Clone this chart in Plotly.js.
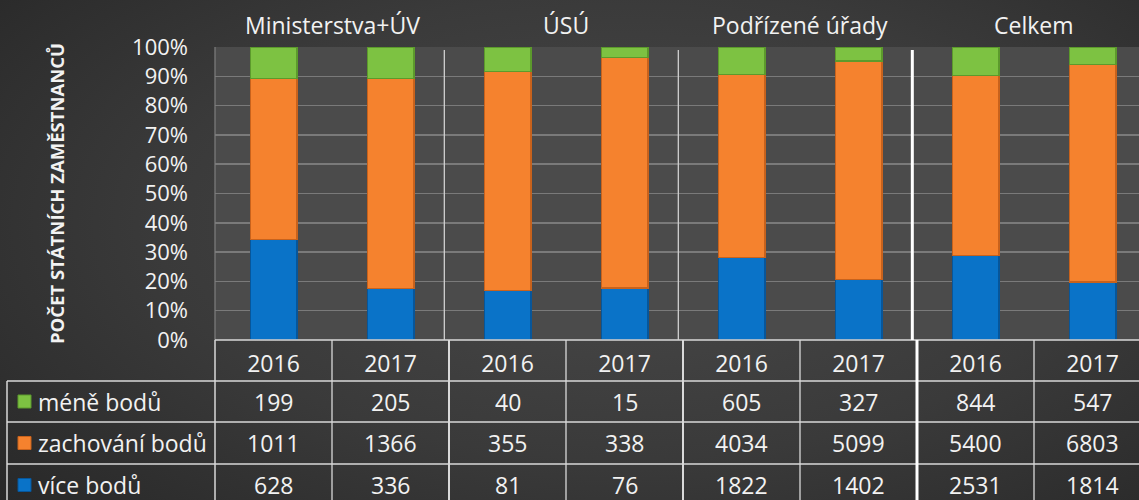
<!DOCTYPE html>
<html>
<head>
<meta charset="utf-8">
<script src="https://cdn.plot.ly/plotly-3.0.1.min.js"></script>
<style>
  html, body { margin: 0; padding: 0; }
  #chart {
    width: 1139px; height: 500px;
    background: radial-gradient(ellipse 75% 85% at 55% 45%, #4a4a4a 0%, #3a3a3a 55%, #272727 100%);
  }
</style>
</head>
<body>
<div id="chart"></div>
<script>
// ---- data ----
const years = ['2016', '2017', '2016', '2017', '2016', '2017', '2016', '2017'];
const groups = ['Ministerstva+ÚV', 'ÚSÚ', 'Podřízené úřady', 'Celkem'];
const seriesNames = ['méně bodů', 'zachování bodů', 'více bodů'];
const meneBodu = [199, 205, 40, 15, 605, 327, 844, 547];
const zachovaniBodu = [1011, 1366, 355, 338, 4034, 5099, 5400, 6803];
const viceBodu = [628, 336, 81, 76, 1822, 1402, 2531, 1814];
const yTicks = [0, 10, 20, 30, 40, 50, 60, 70, 80, 90, 100];

// ---- style ----
const FONT = 'Open Sans, Noto Sans, sans-serif';
const TXT = '#f2f2f2';
const colors = { vice: '#0a73c8', zach: '#f5822e', mene: '#7dc242' };
const edge = { vice: '#07569a', zach: '#c8621c', mene: '#5c9a2c' };

const idx = years.map((_, i) => i);

function barTrace(name, vals, key) {
  return {
    type: 'bar', name: name, x: idx, y: vals,
    width: 0.4,
    marker: { color: colors[key], line: { color: edge[key], width: 1.2 } },
    hoverinfo: 'name+y'
  };
}
const traces = [
  barTrace(seriesNames[2], viceBodu, 'vice'),
  barTrace(seriesNames[1], zachovaniBodu, 'zach'),
  barTrace(seriesNames[0], meneBodu, 'mene')
];

// ---- layout geometry (pixels) ----
const W = 1139, H = 500;
const L = 215, T = 47, B = 340;          // plot area edges
const plotH = B - T, plotW = W - L;
const colW = 117;
const py = p => (B - p) / plotH;          // pixel y -> paper y
const pxp = p => (p - L) / plotW;         // pixel x -> paper x
const xd = p => -0.5 + (p - L) / colW;    // pixel x -> data x
const rowLines = [381, 422, 464, 506];    // horizontal table lines
const rowCenters = [401.5, 443, 485];     // series rows
const tableLeft = 7;

const shapes = [];
const line = (x0, y0, x1, y1, xref, color, width) => shapes.push({
  type: 'line', xref: xref, yref: 'paper', x0: x0, x1: x1, y0: y0, y1: y1,
  line: { color: color, width: width }, layer: 'above'
});
const gridCol = '#d9d9d9';
// plot left border
line(0, 0, 0, 1, 'paper', '#7f7f7f', 1.2);
// header row top (plot bottom) and table horizontals
line(0, py(B), 1, py(B), 'paper', gridCol, 1.5);
rowLines.forEach(r => line(pxp(tableLeft), py(r), 1, py(r), 'paper', gridCol, 1.5));
// left border of header & legend column
line(0, py(B), 0, py(506), 'paper', gridCol, 1.5);
line(pxp(tableLeft), py(381), pxp(tableLeft), py(506), 'paper', gridCol, 1.5);
// column separators in table
for (let i = 1; i < years.length + 1; i++) {
  const isGroup = (i % 2 === 0);
  const xv = i - 0.5;
  const w = (i === 6) ? 3 : (isGroup ? 2 : 1.3);
  line(xv, py(B), xv, py(506), 'x', i === 6 ? '#ffffff' : gridCol, w);
}
// group separators in plot area
[1.46, 3.46, 5.46].forEach((xv, k) => {
  line(xv, py(50), xv, py(B), 'x', k === 2 ? '#ffffff' : '#d0d0d0', k === 2 ? 3 : 1.3);
});
// legend keys
const keyCols = [colors.mene, colors.zach, colors.vice];
const keyEdge = [edge.mene, edge.zach, edge.vice];
rowCenters.forEach((c, k) => {
  shapes.push({
    type: 'rect', xref: 'paper', yref: 'paper',
    x0: pxp(18), x1: pxp(31), y0: py(c + 6.5), y1: py(c - 6.5),
    fillcolor: keyCols[k], line: { color: keyEdge[k], width: 1 }, layer: 'above'
  });
});

// ---- annotations ----
const annotations = [];
// group labels above the plot
groups.forEach((g, k) => annotations.push({
  text: g, x: 2 * k + 0.5, xref: 'x', xanchor: 'center',
  y: py(25), yref: 'paper', yanchor: 'middle',
  showarrow: false, font: { family: FONT, size: 23, color: TXT }
}));
// legend labels and table values
const rows = [meneBodu, zachovaniBodu, viceBodu];
rows.forEach((vals, k) => {
  annotations.push({
    text: seriesNames[k], x: pxp(36), xref: 'paper', xanchor: 'left',
    y: py(rowCenters[k]), yref: 'paper', yanchor: 'middle', showarrow: false,
    font: { family: FONT, size: 23, color: TXT }
  });
  vals.forEach((v, i) => annotations.push({
    text: String(v), x: i, xref: 'x', xanchor: 'center',
    y: py(rowCenters[k]), yref: 'paper', yanchor: 'middle',
    showarrow: false, font: { family: FONT, size: 23, color: TXT }
  }));
});

const layout = {
  width: W, height: H,
  margin: { l: L, r: 0, t: T, b: H - B, pad: 0 },
  paper_bgcolor: 'rgba(0,0,0,0)',
  plot_bgcolor: '#4b4b4b',
  barmode: 'stack', barnorm: 'percent', showlegend: false,
  font: { family: FONT, color: TXT },
  xaxis: {
    range: [-0.5, xd(W)], tickvals: idx, ticktext: years,
    showgrid: false, zeroline: false, showline: false,
    ticks: 'outside', ticklen: 3, tickcolor: 'rgba(0,0,0,0)',
    tickfont: { family: FONT, size: 23, color: TXT }, fixedrange: true
  },
  yaxis: {
    range: [0, 100], tickvals: yTicks, ticktext: yTicks.map(v => v + '%'),
    showgrid: true, gridcolor: '#7a7a7a', gridwidth: 1.5,
    zeroline: false, showline: false,
    ticks: '', ticklabelstandoff: 26,
    tickfont: { family: FONT, size: 22, color: TXT },
    title: { text: '<b>POČET STÁTNÍCH ZAMĚSTNANCŮ</b>', standoff: 62,
             font: { family: FONT, size: 18.5, color: TXT } },
    fixedrange: true
  },
  shapes: shapes,
  annotations: annotations
};

Plotly.newPlot('chart', traces, layout, { displayModeBar: false, staticPlot: true });
</script>
</body>
</html>
